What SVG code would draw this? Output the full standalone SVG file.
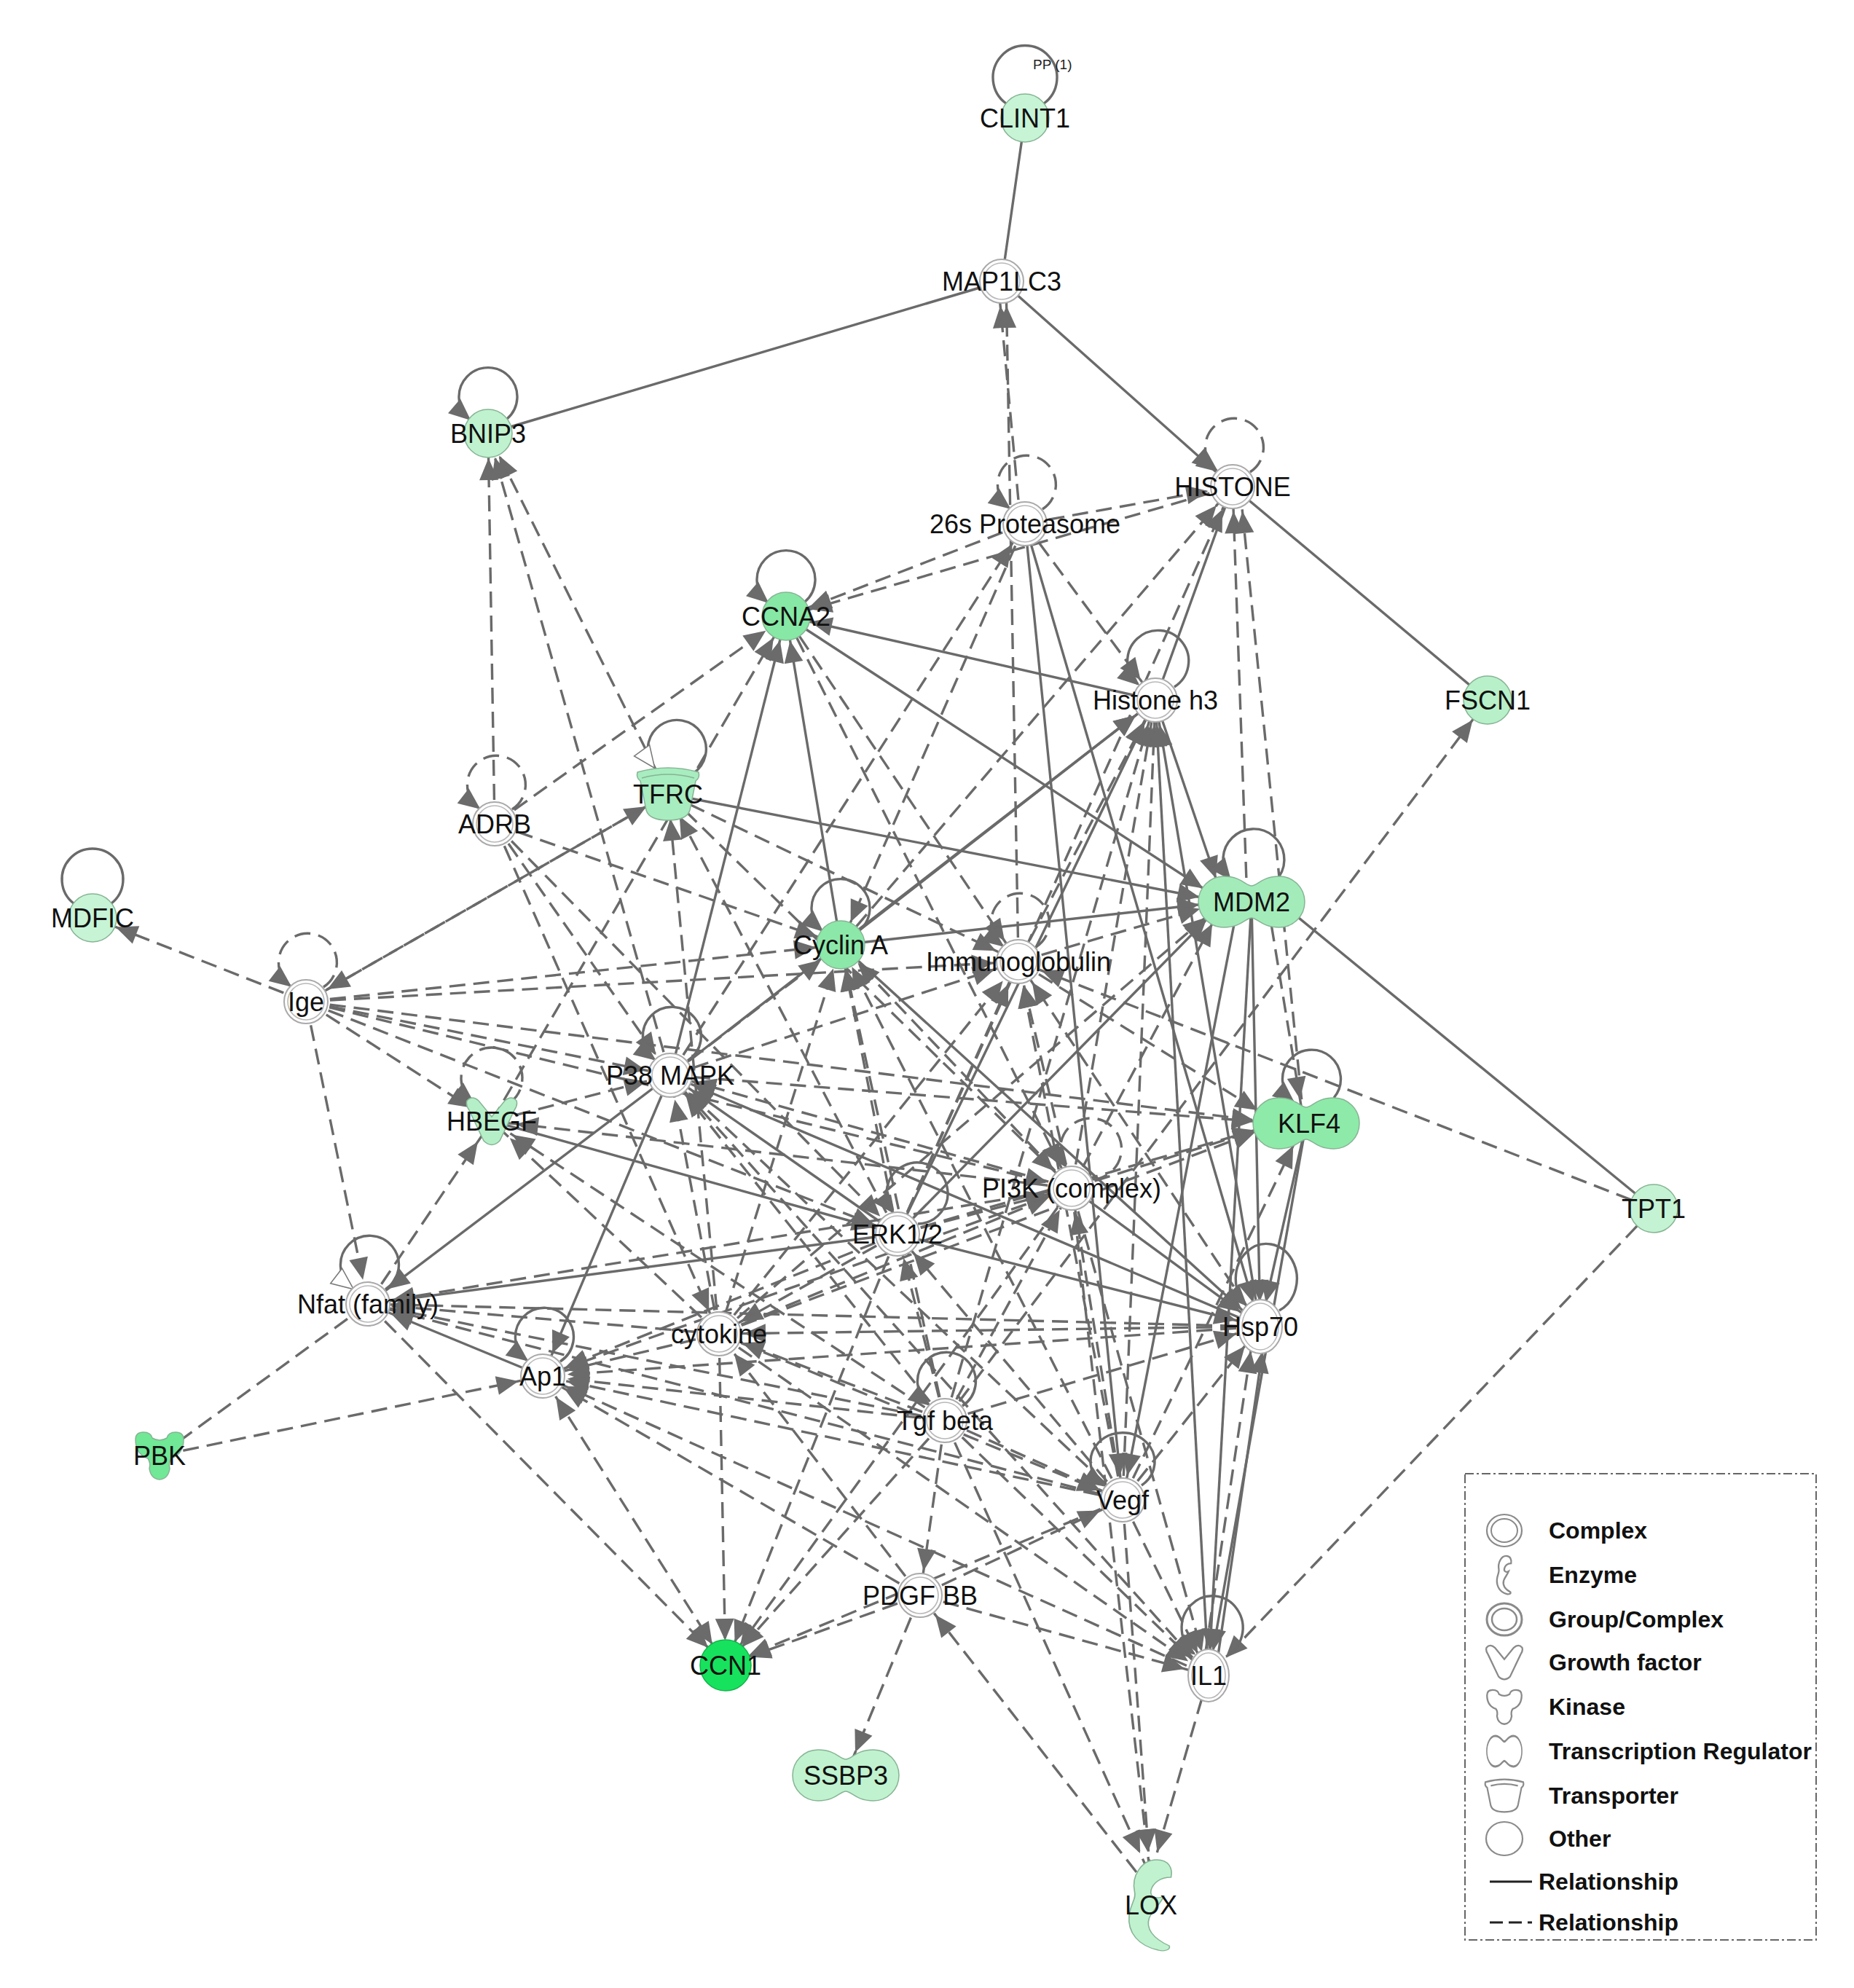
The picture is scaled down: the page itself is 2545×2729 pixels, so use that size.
<svg xmlns="http://www.w3.org/2000/svg" width="2545" height="2729" viewBox="0 0 2545 2729">
<style>
line,.lp{stroke:#6a6a6a;stroke-width:3.4;fill:none}
.d{stroke-dasharray:22 11}
.m{marker-end:url(#ar)}
.b{marker-start:url(#as)}
.lm{marker-end:url(#al)}
.lo{marker-end:url(#ao)}
text{font-family:"Liberation Sans",Arial,sans-serif}
.t{font-size:36px;fill:#111;text-anchor:middle}
.c1{fill:#fff;stroke:#a9a9a9;stroke-width:2}
.c2{fill:none;stroke:#b8b8b8;stroke-width:1.6}
.g{stroke:#86b494;stroke-width:1.5}
.lt{font-size:32px;font-weight:bold;fill:#111}
.li{fill:#fff;stroke:#8a8a8a}
</style>
<defs>
<marker id="ar" markerUnits="userSpaceOnUse" markerWidth="100" markerHeight="40" refX="64" refY="13" orient="auto" overflow="visible"><path d="M0,0 L30,13 L0,26 Z" fill="#6b6b6b"/></marker>
<marker id="as" markerUnits="userSpaceOnUse" markerWidth="100" markerHeight="40" refX="64" refY="13" orient="auto-start-reverse" overflow="visible"><path d="M0,0 L30,13 L0,26 Z" fill="#6b6b6b"/></marker>
<marker id="al" markerUnits="userSpaceOnUse" markerWidth="40" markerHeight="40" refX="27" refY="13" orient="auto" overflow="visible"><path d="M0,0 L30,13 L0,26 Z" fill="#6b6b6b"/></marker>
<marker id="ao" markerUnits="userSpaceOnUse" markerWidth="40" markerHeight="40" refX="27" refY="13" orient="auto" overflow="visible"><path d="M0,0 L30,13 L0,26 Z" fill="#fff" stroke="#777" stroke-width="1.5"/></marker>
<path id="peanut" d="M0,-22 C8,-22 14,-35 38,-35 A35,35 0 0 1 38,35 C14,35 8,22 0,22 C-8,22 -14,35 -38,35 A35,35 0 0 1 -38,-35 C-14,-35 -8,-22 0,-22 Z"/>
<path id="cup" d="M-42,-30 Q0,-42 42,-30 Q44,-22 38,-18 L30,22 Q26,36 0,36 Q-26,36 -30,22 L-38,-18 Q-44,-22 -42,-30 Z"/>
<path id="gf" d="M-34,-28 Q-27,-36 -18,-28 L0,-6 L18,-28 Q27,-36 34,-28 Q36,-22 31,-15 L11,27 Q0,38 -11,27 L-31,-15 Q-36,-22 -34,-28 Z"/>
<path id="kin" d="M-33,-22 Q-33,-32 -22,-32 Q-12,-32 -10,-24 Q0,-18 10,-24 Q12,-32 22,-32 Q33,-32 33,-22 Q33,-2 16,4 Q12,10 14,18 Q12,32 0,33 Q-12,32 -14,18 Q-12,10 -16,4 Q-33,-2 -33,-22 Z"/>
<path id="enz" d="M6,-62 C20,-62 24,-50 22,-38 C10,-38 2,-30 0,-20 C-2,-10 8,-8 14,-12 C10,0 2,6 -2,18 C-6,32 2,46 20,56 C22,62 14,64 8,62 C-14,56 -26,38 -24,14 C-22,-4 -16,-8 -18,-18 C-22,-40 -10,-62 6,-62 Z"/>
<clipPath id="lgclip"><rect x="2011" y="2023" width="482" height="640"/></clipPath>
</defs>
<rect width="2545" height="2729" fill="#fff"/>
<g id="edges">
<line x1="1407" y1="162" x2="1375" y2="386"/>
<line x1="1375" y1="386" x2="670" y2="595"/>
<line x1="1375" y1="386" x2="1692" y2="668" class="m"/>
<line x1="1692" y1="668" x2="2042" y2="961"/>
<line x1="1756" y1="1238" x2="2270" y2="1659"/>
<line x1="1401" y1="719" x2="1370" y2="386" class="d m"/>
<line x1="1398" y1="1320" x2="1381" y2="386" class="d m"/>
<line x1="1407" y1="719" x2="1079" y2="846" class="d m"/>
<line x1="1692" y1="668" x2="1079" y2="846" class="d m"/>
<line x1="1407" y1="719" x2="1692" y2="668" class="d m"/>
<line x1="1692" y1="668" x2="1586" y2="961"/>
<line x1="1712" y1="1238" x2="1692" y2="668" class="d m"/>
<line x1="1790" y1="1542" x2="1702" y2="668" class="d m"/>
<line x1="1154" y1="1297" x2="1692" y2="668" class="d m"/>
<line x1="1232" y1="1694" x2="1692" y2="668" class="d m"/>
<line x1="679" y1="1131" x2="670" y2="595" class="d m"/>
<line x1="917" y1="1090" x2="670" y2="595" class="d m"/>
<line x1="920" y1="1476" x2="670" y2="595" class="d m"/>
<line x1="1586" y1="961" x2="1079" y2="846" class="m"/>
<line x1="1079" y1="846" x2="1680" y2="1238" class="m"/>
<line x1="1154" y1="1297" x2="1079" y2="846" class="m"/>
<line x1="920" y1="1476" x2="1079" y2="846" class="m"/>
<line x1="679" y1="1131" x2="1079" y2="846" class="d m"/>
<line x1="675" y1="1539" x2="1079" y2="846" class="d m"/>
<line x1="1079" y1="846" x2="1398" y2="1320" class="d m"/>
<line x1="1079" y1="846" x2="1471" y2="1631" class="d m"/>
<line x1="1407" y1="719" x2="1586" y2="961" class="d m"/>
<line x1="1407" y1="719" x2="1730" y2="1821" class="m"/>
<line x1="1407" y1="719" x2="1541" y2="2059" class="m"/>
<line x1="920" y1="1476" x2="1407" y2="719" class="d m"/>
<line x1="1407" y1="719" x2="1154" y2="1297" class="d m"/>
<line x1="1154" y1="1297" x2="1586" y2="961" class="m"/>
<line x1="1232" y1="1694" x2="1586" y2="961" class="m"/>
<line x1="1471" y1="1631" x2="1586" y2="961" class="d m"/>
<line x1="1541" y1="2059" x2="1586" y2="961" class="d m"/>
<line x1="1730" y1="1821" x2="1586" y2="961" class="m"/>
<line x1="1659" y1="2300" x2="1586" y2="961" class="m"/>
<line x1="1297" y1="1950" x2="1586" y2="961" class="d m"/>
<line x1="1398" y1="1320" x2="1586" y2="961" class="d m"/>
<line x1="1586" y1="961" x2="1680" y2="1238" class="m"/>
<line x1="920" y1="1476" x2="1586" y2="961" class="m"/>
<line x1="917" y1="1090" x2="1680" y2="1238" class="m"/>
<line x1="917" y1="1090" x2="1398" y2="1320" class="d m"/>
<line x1="420" y1="1375" x2="917" y2="1090" class="d m"/>
<line x1="1232" y1="1694" x2="917" y2="1090" class="d m"/>
<line x1="917" y1="1090" x2="1471" y2="1631" class="d m"/>
<line x1="987" y1="1831" x2="917" y2="1090" class="d m"/>
<line x1="679" y1="1131" x2="1154" y2="1297" class="d m"/>
<line x1="679" y1="1131" x2="920" y2="1476" class="d m"/>
<line x1="679" y1="1131" x2="1232" y2="1694" class="d m"/>
<line x1="679" y1="1131" x2="987" y2="1831" class="d m"/>
<line x1="1154" y1="1297" x2="1680" y2="1238" class="m"/>
<line x1="1398" y1="1320" x2="1680" y2="1238" class="d m"/>
<line x1="1232" y1="1694" x2="1680" y2="1238" class="m"/>
<line x1="1471" y1="1631" x2="1680" y2="1238" class="d m"/>
<line x1="987" y1="1831" x2="1680" y2="1238" class="d m"/>
<line x1="1740" y1="1238" x2="1790" y2="1542" class="d m"/>
<line x1="1718" y1="1238" x2="1730" y2="1821" class="m"/>
<line x1="1718" y1="1238" x2="1659" y2="2300" class="m"/>
<line x1="1700" y1="1238" x2="1541" y2="2059" class="m"/>
<line x1="420" y1="1375" x2="1154" y2="1297" class="d m"/>
<line x1="1232" y1="1694" x2="1154" y2="1297" class="d m"/>
<line x1="987" y1="1831" x2="1154" y2="1297" class="d m"/>
<line x1="1297" y1="1950" x2="1154" y2="1297" class="d m"/>
<line x1="1471" y1="1631" x2="1154" y2="1297" class="d m"/>
<line x1="1154" y1="1297" x2="1730" y2="1821" class="m"/>
<line x1="920" y1="1476" x2="1154" y2="1297" class="d m"/>
<line x1="1541" y1="2059" x2="1154" y2="1297" class="d m"/>
<line x1="2270" y1="1659" x2="1398" y2="1320" class="d m"/>
<line x1="420" y1="1375" x2="1398" y2="1320" class="d m"/>
<line x1="920" y1="1476" x2="1398" y2="1320" class="d m"/>
<line x1="1232" y1="1694" x2="1398" y2="1320" class="d m"/>
<line x1="987" y1="1831" x2="1398" y2="1320" class="d m"/>
<line x1="1398" y1="1320" x2="1755" y2="1542" class="d m"/>
<line x1="1471" y1="1631" x2="1398" y2="1320" class="d m"/>
<line x1="1541" y1="2059" x2="1398" y2="1320" class="d m"/>
<line x1="1730" y1="1821" x2="1398" y2="1320" class="d m"/>
<line x1="420" y1="1375" x2="127" y2="1260" class="d m"/>
<line x1="420" y1="1375" x2="920" y2="1476" class="d m"/>
<line x1="420" y1="1375" x2="675" y2="1539" class="d m"/>
<line x1="420" y1="1375" x2="1755" y2="1542" class="d m"/>
<line x1="420" y1="1375" x2="505" y2="1790" class="d m"/>
<line x1="420" y1="1375" x2="1471" y2="1631" class="d m"/>
<line x1="420" y1="1375" x2="1232" y2="1694" class="d m"/>
<line x1="917" y1="1090" x2="420" y2="1375" class="d m"/>
<line x1="505" y1="1790" x2="675" y2="1539" class="d m"/>
<line x1="675" y1="1539" x2="1232" y2="1694" class="m"/>
<line x1="1471" y1="1631" x2="675" y2="1539" class="d m"/>
<line x1="987" y1="1831" x2="675" y2="1539" class="d m"/>
<line x1="1297" y1="1950" x2="675" y2="1539" class="d m"/>
<line x1="675" y1="1539" x2="920" y2="1476" class="d m"/>
<line x1="920" y1="1476" x2="505" y2="1790" class="m"/>
<line x1="920" y1="1476" x2="745" y2="1889" class="m"/>
<line x1="1232" y1="1694" x2="920" y2="1476" class="m"/>
<line x1="1471" y1="1631" x2="920" y2="1476" class="d m"/>
<line x1="987" y1="1831" x2="920" y2="1476" class="d m"/>
<line x1="1297" y1="1950" x2="920" y2="1476" class="d m"/>
<line x1="1730" y1="1821" x2="920" y2="1476" class="m"/>
<line x1="920" y1="1476" x2="1755" y2="1542" class="d m"/>
<line x1="1541" y1="2059" x2="920" y2="1476" class="d m"/>
<line x1="1659" y1="2300" x2="920" y2="1476" class="d m"/>
<line x1="1471" y1="1631" x2="1755" y2="1542" class="d m"/>
<line x1="1471" y1="1631" x2="1730" y2="1821" class="m"/>
<line x1="1232" y1="1694" x2="1471" y2="1631" class="d m"/>
<line x1="987" y1="1831" x2="1471" y2="1631" class="d m"/>
<line x1="1297" y1="1950" x2="1471" y2="1631" class="d m"/>
<line x1="1541" y1="2059" x2="1471" y2="1631" class="d m"/>
<line x1="1471" y1="1631" x2="505" y2="1790" class="d m"/>
<line x1="1471" y1="1631" x2="745" y2="1889" class="d m"/>
<line x1="1471" y1="1631" x2="1659" y2="2300" class="d m"/>
<line x1="1471" y1="1631" x2="996" y2="2286" class="d m"/>
<line x1="1793" y1="1542" x2="1730" y2="1821" class="m"/>
<line x1="1793" y1="1542" x2="1659" y2="2300" class="m"/>
<line x1="1541" y1="2059" x2="1790" y2="1542" class="d m"/>
<line x1="987" y1="1831" x2="1755" y2="1542" class="d m"/>
<line x1="1232" y1="1694" x2="1755" y2="1542" class="d m"/>
<line x1="1232" y1="1694" x2="505" y2="1790" class="m"/>
<line x1="1232" y1="1694" x2="987" y2="1831" class="d m"/>
<line x1="1232" y1="1694" x2="745" y2="1889" class="d m"/>
<line x1="1232" y1="1694" x2="1730" y2="1821" class="m"/>
<line x1="1297" y1="1950" x2="1232" y2="1694" class="d m"/>
<line x1="1541" y1="2059" x2="1232" y2="1694" class="d m"/>
<line x1="1232" y1="1694" x2="996" y2="2286" class="d m"/>
<line x1="987" y1="1831" x2="505" y2="1790" class="d m"/>
<line x1="1730" y1="1821" x2="505" y2="1790" class="d m"/>
<line x1="745" y1="1889" x2="505" y2="1790" class="m"/>
<line x1="1297" y1="1950" x2="505" y2="1790" class="d m"/>
<line x1="219" y1="1998" x2="505" y2="1790" class="d"/>
<line x1="505" y1="1790" x2="996" y2="2286" class="d m"/>
<line x1="1541" y1="2059" x2="505" y2="1790" class="d m"/>
<line x1="1730" y1="1821" x2="987" y2="1831" class="d m"/>
<line x1="987" y1="1831" x2="745" y2="1889" class="d m"/>
<line x1="1297" y1="1950" x2="987" y2="1831" class="d m"/>
<line x1="987" y1="1831" x2="996" y2="2286" class="d m"/>
<line x1="987" y1="1831" x2="1541" y2="2059" class="d m"/>
<line x1="987" y1="1831" x2="1659" y2="2300" class="d m"/>
<line x1="1263" y1="2190" x2="987" y2="1831" class="d m"/>
<line x1="219" y1="1998" x2="745" y2="1889" class="d m"/>
<line x1="745" y1="1889" x2="996" y2="2286" class="d m b"/>
<line x1="1730" y1="1821" x2="745" y2="1889" class="d m"/>
<line x1="1297" y1="1950" x2="745" y2="1889" class="d m"/>
<line x1="1541" y1="2059" x2="745" y2="1889" class="d m"/>
<line x1="1659" y1="2300" x2="745" y2="1889" class="d m"/>
<line x1="1263" y1="2190" x2="745" y2="1889" class="d m"/>
<line x1="1297" y1="1950" x2="2042" y2="961" class="d m"/>
<line x1="1297" y1="1950" x2="1263" y2="2190" class="d m"/>
<line x1="1297" y1="1950" x2="996" y2="2286" class="d m"/>
<line x1="1297" y1="1950" x2="1541" y2="2059" class="d m"/>
<line x1="1297" y1="1950" x2="1659" y2="2300" class="d m"/>
<line x1="1297" y1="1950" x2="1730" y2="1821" class="d m"/>
<line x1="1297" y1="1950" x2="1579" y2="2575" class="d m"/>
<line x1="1541" y1="2059" x2="1579" y2="2575" class="d m"/>
<line x1="1541" y1="2059" x2="1659" y2="2300" class="d m"/>
<line x1="1541" y1="2059" x2="1730" y2="1821" class="d m"/>
<line x1="1263" y1="2190" x2="1541" y2="2059" class="d m"/>
<line x1="1541" y1="2059" x2="996" y2="2286" class="d m"/>
<line x1="1650" y1="2300" x2="1722" y2="1821" class="d m"/>
<line x1="1668" y1="2300" x2="1738" y2="1821" class="m"/>
<line x1="1263" y1="2190" x2="1161" y2="2437" class="d m"/>
<line x1="1263" y1="2190" x2="996" y2="2286" class="d m"/>
<line x1="1560" y1="2570" x2="1263" y2="2190" class="d m"/>
<line x1="1263" y1="2190" x2="1659" y2="2300" class="d m"/>
<line x1="1471" y1="1631" x2="1579" y2="2575" class="d m"/>
<line x1="1659" y1="2300" x2="1579" y2="2575" class="d m"/>
<line x1="2270" y1="1659" x2="1659" y2="2300" class="d m"/>
</g>
<g id="nodes">
<g id="n-CLINT1" transform="translate(1407,162)"><path class="lp" d="M26,-20 A44,44 0 1 0 -26,-20"/><circle r="33" fill="#c6f4d5" class="g"/><text class="t" y="13">CLINT1</text></g>
<text x="1418" y="95" font-size="19" fill="#222">PP (1)</text>
<g id="n-MAP1LC3" transform="translate(1375,386)"><circle r="30" class="c1"/><circle r="25" class="c2"/><text class="t" y="13">MAP1LC3</text></g>
<g id="n-BNIP3" transform="translate(670,595)"><path class="lp lm" d="M26,-20 A40,40 0 1 0 -26,-20"/><circle r="33" fill="#c0f2cf" class="g"/><text class="t" y="13">BNIP3</text></g>
<g id="n-HISTONE" transform="translate(1692,668)"><path class="lp d lm" d="M24,-20 A40,40 0 1 0 -22,-22"/><circle r="30" class="c1"/><circle r="25" class="c2"/><text class="t" y="13">HISTONE</text></g>
<g id="n-26s" transform="translate(1407,719)"><path class="lp d lm" d="M24,-20 A40,40 0 1 0 -22,-22"/><circle r="30" class="c1"/><circle r="25" class="c2"/><text class="t" y="13">26s Proteasome</text></g>
<g id="n-CCNA2" transform="translate(1079,846)"><path class="lp lm" d="M26,-20 A40,40 0 1 0 -26,-20"/><circle r="33" fill="#86e8a4" class="g"/><text class="t" y="13">CCNA2</text></g>
<g id="n-Histoneh3" transform="translate(1586,961)"><path class="lp lm" d="M26,-18 A42,42 0 1 0 -24,-22"/><circle r="30" class="c1"/><circle r="25" class="c2"/><text class="t" y="13">Histone h3</text></g>
<g id="n-FSCN1" transform="translate(2042,961)"><circle r="33" fill="#b8f0c9" class="g"/><text class="t" y="13">FSCN1</text></g>
<g id="n-ADRB" transform="translate(679,1131)"><path class="lp d lm" d="M24,-20 A40,40 0 1 0 -22,-22"/><circle r="30" class="c1"/><circle r="25" class="c2"/><text class="t" y="13">ADRB</text></g>
<g id="n-TFRC" transform="translate(917,1090)"><path class="lp lo" d="M34,-28 A40,40 0 1 0 -20,-38"/><use href="#cup" fill="#a8edbf" class="g"/><path d="M-36,-22 Q0,-32 36,-22" fill="none" stroke="#86b494" stroke-width="1.5"/><text class="t" y="13">TFRC</text></g>
<g id="n-MDM2" transform="translate(1718,1238)"><path class="lp lm" d="M38,-35 A42,42 0 1 0 -30,-32"/><use href="#peanut" fill="#a3ecba" class="g"/><text class="t" y="13">MDM2</text></g>
<g id="n-MDFIC" transform="translate(127,1260)"><path class="lp" d="M26,-20 A42,42 0 1 0 -26,-20"/><circle r="33" fill="#c6f4d5" class="g"/><text class="t" y="13">MDFIC</text></g>
<g id="n-CyclinA" transform="translate(1154,1297)"><path class="lp lm" d="M26,-20 A40,40 0 1 0 -26,-20"/><circle r="33" fill="#8ce8a8" class="g"/><text class="t" y="13">Cyclin A</text></g>
<g id="n-Immunoglobulin" transform="translate(1398,1320)"><path class="lp d lm" d="M24,-20 A40,40 0 1 0 -22,-22"/><circle r="30" class="c1"/><circle r="25" class="c2"/><text class="t" y="13">Immunoglobulin</text></g>
<g id="n-Ige" transform="translate(420,1375)"><path class="lp d lm" d="M24,-20 A40,40 0 1 0 -22,-22"/><circle r="30" class="c1"/><circle r="25" class="c2"/><text class="t" y="13">Ige</text></g>
<g id="n-P38MAPK" transform="translate(920,1476)"><path class="lp lm" d="M24,-20 A40,40 0 1 0 -22,-22"/><circle r="30" class="c1"/><circle r="25" class="c2"/><text class="t" y="13">P38 MAPK</text></g>
<g id="n-HBEGF" transform="translate(675,1539)"><path class="lp d lm" d="M26,-26 A42,42 0 1 0 -26,-26"/><use href="#gf" fill="#b5efc7" class="g"/><text class="t" y="13">HBEGF</text></g>
<g id="n-KLF4" transform="translate(1793,1542)"><path class="lp lm" d="M38,-35 A40,40 0 1 0 -18,-30"/><use href="#peanut" fill="#8eeaa8" class="g"/><text class="t" x="4" y="13">KLF4</text></g>
<g id="n-PI3K" transform="translate(1471,1631)"><path class="lp d lm" d="M28,-12 A42,42 0 1 0 -8,-30"/><circle r="30" class="c1"/><circle r="25" class="c2"/><text class="t" y="13">PI3K (complex)</text></g>
<g id="n-TPT1" transform="translate(2270,1659)"><circle r="33" fill="#c4f3d4" class="g"/><text class="t" y="13">TPT1</text></g>
<g id="n-ERK12" transform="translate(1232,1694)"><path class="lp lm" d="M28,-14 A42,42 0 1 0 -6,-30"/><circle r="30" class="c1"/><circle r="25" class="c2"/><text class="t" y="13">ERK1/2</text></g>
<g id="n-Nfat" transform="translate(505,1790)"><path class="lp lo" d="M24,-20 A40,40 0 1 0 -22,-22"/><circle r="30" class="c1"/><circle r="25" class="c2"/><text class="t" y="13">Nfat (family)</text></g>
<g id="n-cytokine" transform="translate(987,1831)"><circle r="30" class="c1"/><circle r="25" class="c2"/><text class="t" y="13">cytokine</text></g>
<g id="n-Hsp70" transform="translate(1730,1821)"><path class="lp lm" d="M26,-22 A42,48 0 1 0 -20,-30"/><ellipse rx="30" ry="37" class="c1"/><ellipse rx="25" ry="32" class="c2"/><text class="t" y="13">Hsp70</text></g>
<g id="n-Ap1" transform="translate(745,1889)"><path class="lp lm" d="M24,-20 A40,40 0 1 0 -22,-22"/><circle r="30" class="c1"/><circle r="25" class="c2"/><text class="t" y="13">Ap1</text></g>
<g id="n-PBK" transform="translate(219,1998)"><use href="#kin" fill="#70e896" class="g"/><text class="t" y="13">PBK</text></g>
<g id="n-Tgfbeta" transform="translate(1297,1950)"><path class="lp lm" d="M24,-20 A40,40 0 1 0 -22,-22"/><circle r="30" class="c1"/><circle r="25" class="c2"/><text class="t" y="13">Tgf beta</text></g>
<g id="n-Vegf" transform="translate(1541,2059)"><path class="lp lm" d="M26,-20 A44,40 0 1 0 -26,-20"/><circle r="30" class="c1"/><circle r="25" class="c2"/><text class="t" y="13">Vegf</text></g>
<g id="n-PDGFBB" transform="translate(1263,2190)"><circle r="30" class="c1"/><circle r="25" class="c2"/><text class="t" y="13">PDGF BB</text></g>
<g id="n-CCN1" transform="translate(996,2286)"><circle r="35" fill="#17e25d" stroke="#10b54a" stroke-width="1.5"/><text class="t" y="13">CCN1</text></g>
<g id="n-IL1" transform="translate(1659,2300)"><path class="lp lm" d="M24,-26 A42,44 0 1 0 -20,-30"/><ellipse rx="28" ry="36" class="c1"/><ellipse rx="23" ry="31" class="c2"/><text class="t" y="13">IL1</text></g>
<g id="n-SSBP3" transform="translate(1161,2437)"><use href="#peanut" fill="#c0f2cf" class="g"/><text class="t" y="13">SSBP3</text></g>
<g id="n-LOX" transform="translate(1580,2615)"><g transform="scale(1.25,1)"><use href="#enz" fill="#c0f2cf" stroke="#86b494" style="stroke-width:1.3"/></g><text class="t" y="13">LOX</text></g>
</g>
<g id="legend">
<rect x="2011" y="2023" width="482" height="640" fill="none" stroke="#666" stroke-width="2" stroke-dasharray="12 4 3 4"/>
<g clip-path="url(#lgclip)">
<g transform="translate(2065,2101)"><ellipse rx="24" ry="22" class="li" style="stroke-width:2.2"/><ellipse rx="18" ry="16" class="li" style="stroke-width:2"/></g>
<g transform="translate(2065,2162) scale(0.42)"><use href="#enz" class="li" style="stroke-width:5.5"/></g>
<g transform="translate(2065,2223)"><ellipse rx="24" ry="22" class="li" style="stroke-width:3"/><ellipse rx="17" ry="15" class="li" style="stroke-width:2.5"/></g>
<g transform="translate(2065,2282) scale(0.72)"><use href="#gf" class="li" style="stroke-width:3.2"/></g>
<g transform="translate(2065,2343) scale(0.72)"><use href="#kin" class="li" style="stroke-width:3.2"/></g>
<g transform="translate(2065,2404) scale(0.33,0.6)"><use href="#peanut" class="li" style="stroke-width:4.8"/></g>
<g transform="translate(2065,2465) scale(0.62)"><use href="#cup" class="li" style="stroke-width:3.5"/><path d="M-30,-22 Q0,-30 30,-22" fill="none" stroke="#8a8a8a" stroke-width="3.5"/></g>
<ellipse cx="2065" cy="2524" rx="25" ry="23" class="li" style="stroke-width:2.2"/>
<text class="lt" x="2126" y="2112">Complex</text>
<text class="lt" x="2126" y="2173">Enzyme</text>
<text class="lt" x="2126" y="2234">Group/Complex</text>
<text class="lt" x="2126" y="2293">Growth factor</text>
<text class="lt" x="2126" y="2354">Kinase</text>
<text class="lt" x="2126" y="2415">Transcription Regulator</text>
<text class="lt" x="2126" y="2476">Transporter</text>
<text class="lt" x="2126" y="2535">Other</text>
<line x1="2045" y1="2583" x2="2103" y2="2583" style="stroke:#222;stroke-width:3"/>
<text class="lt" x="2112" y="2594">Relationship</text>
<line x1="2045" y1="2639" x2="2103" y2="2639" style="stroke:#222;stroke-width:3;stroke-dasharray:18 8"/>
<text class="lt" x="2112" y="2650">Relationship</text>
</g>
</g>
</svg>
